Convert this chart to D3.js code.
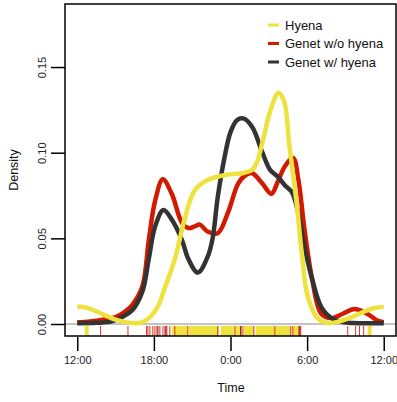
<!DOCTYPE html>
<html>
<head>
<meta charset="utf-8">
<script src="https://cdn.jsdelivr.net/npm/d3@7"></script>
<style>
  html, body { margin: 0; padding: 0; background: #fff; }
  svg { display: block; font-family: "Liberation Sans", Arial, Helvetica, sans-serif; }
</style>
</head>
<body>
<svg id="chart" width="397" height="402"></svg>
<script>
// ---- Data (hours since 12:00) ----
const seriesNames = ["Hyena", "Genet w/o hyena", "Genet w/ hyena"];
const xTickHours = [0, 6, 12, 18, 24];
const xTickLabels = ["12:00", "18:00", "0:00", "6:00", "12:00"];
const yTickValues = [0, 0.05, 0.10, 0.15];
const yTickLabels = ["0.00", "0.05", "0.10", "0.15"];

const hyenaHours =   [0, 0.6, 1.6, 3, 4, 5, 5.7, 6.3, 6.9, 7.65, 8.4, 9.2, 10.2, 11.6, 12.9, 13.7, 14.05, 14.5, 15.1, 15.75, 16.2, 16.6, 17.2, 17.6, 18.05, 18.8, 19.6, 20.5, 21.5, 22.7, 23.4, 24];
const hyenaDensity = [0.010, 0.0098, 0.007, 0.0025, 0.0008, 0.0008, 0.004, 0.010, 0.022, 0.038, 0.061, 0.078, 0.084, 0.087, 0.088, 0.090, 0.094, 0.106, 0.124, 0.135, 0.130, 0.105, 0.069, 0.040, 0.016, 0.0035, 0.0006, 0.0015, 0.004, 0.008, 0.0095, 0.010];

const genetNoHours =   [0, 1, 2, 3, 3.7, 4.3, 5.1, 5.6, 6.1, 6.7, 7.4, 8.2, 8.7, 9.2, 9.6, 10.2, 11.0, 11.8, 12.6, 13.2, 13.7, 14.5, 15.2, 15.7, 16.25, 16.9, 17.3, 17.8, 18.4, 19.1, 19.9, 20.8, 21.7, 22.7, 23.5, 24];
const genetNoDensity = [0.001, 0.0015, 0.0025, 0.004, 0.007, 0.011, 0.022, 0.049, 0.072, 0.0845, 0.076, 0.059, 0.056, 0.057, 0.058, 0.054, 0.053, 0.065, 0.082, 0.087, 0.088, 0.082, 0.076, 0.083, 0.092, 0.097, 0.085, 0.055, 0.026, 0.006, 0.0035, 0.006, 0.0087, 0.006, 0.002, 0.001];

const genetWithHours =   [0, 1.5, 2.7, 3.5, 4.3, 5.1, 5.6, 6.1, 6.75, 7.4, 8.2, 8.7, 9.45, 10.2, 10.6, 11.0, 11.5, 12.0, 12.5, 13.0, 13.7, 14.5, 15.1, 15.7, 16.25, 16.8, 17.3, 17.8, 18.4, 19.1, 19.9, 20.9, 22, 24];
const genetWithDensity = [0.0005, 0.0007, 0.0015, 0.004, 0.008, 0.019, 0.038, 0.057, 0.0665, 0.061, 0.049, 0.038, 0.030, 0.039, 0.050, 0.074, 0.096, 0.112, 0.119, 0.120, 0.115, 0.100, 0.090, 0.086, 0.081, 0.077, 0.065, 0.045, 0.026, 0.010, 0.0035, 0.001, 0.0005, 0.0005];

// Rug observations (hours since 12:00)
const hyenaRug = [0.74, 7.57, 7.80, 8.04, 8.27, 8.51, 8.90, 9.13, 9.37, 9.60, 9.84, 10.07, 10.31, 10.54, 10.78, 10.93, 11.40, 11.64, 11.87, 12.10, 12.50, 12.73, 13.20, 13.43, 13.67, 14.14, 14.37, 14.60, 14.84, 15.07, 15.30, 15.62, 15.86, 16.10, 16.33, 16.57, 17.04, 17.27, 22.90];
const genetNoRug = [1.83, 3.97, 5.43, 5.53, 5.69, 5.92, 6.08, 6.24, 6.47, 6.71, 6.86, 7.02, 7.25, 7.64, 8.66, 11.0, 12.34, 12.8, 12.97, 13.83, 15.47, 16.72, 16.88, 17.35, 17.5, 21.18, 21.8, 22.1, 22.43];
const genetWithRug = [6.32, 6.94, 12.8, 17.43];

// ---- Layout ----
const svg = d3.select("#chart");
const box = { left: 65, right: 396, top: 4, bottom: 336 };
const colors = { hyena: "#eee23e", genetNo: "#d21a00", genetWith: "#333333" };

const x = d3.scaleLinear().domain([-0.96, 24.96]).range([box.left, box.right]);
const y = d3.scaleLinear().domain([-0.007, 0.1868]).range([box.bottom, box.top]);

// baseline at density 0
svg.append("line")
  .attr("x1", box.left).attr("x2", box.right)
  .attr("y1", y(0)).attr("y2", y(0))
  .attr("stroke", "#8a8a8a").attr("stroke-width", 1);

// rugs
function rug(data, color, width) {
  svg.append("g").selectAll("line").data(data).join("line")
    .attr("x1", d => x(d)).attr("x2", d => x(d))
    .attr("y1", box.bottom).attr("y2", box.bottom - 10)
    .attr("stroke", color).attr("stroke-width", width);
}
rug(hyenaRug, colors.hyena, 4);
rug(genetNoRug, "#dd3322", 1);
rug(genetWithRug, "#7a1a10", 1);

// curves
const line = d3.line().x(d => x(d[0])).y(d => y(d[1])).curve(d3.curveCatmullRom.alpha(0.5));
function drawCurve(hours, dens, color) {
  svg.append("path")
    .datum(d3.zip(hours, dens))
    .attr("d", line)
    .attr("fill", "none")
    .attr("stroke", color)
    .attr("stroke-width", 4.5)
    .attr("stroke-linejoin", "round")
    .attr("stroke-linecap", "butt");
}
drawCurve(genetNoHours, genetNoDensity, colors.genetNo);
drawCurve(genetWithHours, genetWithDensity, colors.genetWith);
drawCurve(hyenaHours, hyenaDensity, colors.hyena);

// box
svg.append("rect")
  .attr("x", box.left).attr("y", box.top)
  .attr("width", box.right - box.left).attr("height", box.bottom - box.top)
  .attr("fill", "none").attr("stroke", "#000").attr("stroke-width", 1.5);

// x axis ticks
const xAxis = d3.axisBottom(x).tickValues(xTickHours)
  .tickFormat((d, i) => xTickLabels[i]).tickSize(14).tickPadding(5);
const gx = svg.append("g").attr("transform", `translate(0,${box.bottom + 1})`).call(xAxis);
gx.select(".domain").remove();
gx.selectAll(".tick line").attr("stroke", "#000").attr("stroke-width", 1.5);
gx.selectAll(".tick text").attr("font-size", 11).attr("fill", "#222")
  .attr("font-family", "Liberation Sans, Arial, sans-serif");

// y axis ticks
const yAxis = d3.axisLeft(y).tickValues(yTickValues)
  .tickFormat((d, i) => yTickLabels[i]).tickSize(14).tickPadding(0);
const gy = svg.append("g").attr("transform", `translate(${box.left},0)`).call(yAxis);
gy.select(".domain").remove();
gy.selectAll(".tick line").attr("stroke", "#000").attr("stroke-width", 1.5);
gy.selectAll(".tick text").remove();
gy.selectAll(".tick").append("text")
  .attr("transform", "translate(-19,0) rotate(-90)")
  .attr("text-anchor", "middle")
  .attr("font-size", 11).attr("fill", "#222")
  .attr("font-family", "Liberation Sans, Arial, sans-serif")
  .text((d, i) => yTickLabels[i]);

// axis titles
svg.append("text").attr("x", (box.left + box.right) / 2 + 0.5).attr("y", 392)
  .attr("text-anchor", "middle").attr("font-size", 12.5).attr("fill", "#111").text("Time");
svg.append("text").attr("transform", `translate(18,${(box.top + box.bottom) / 2}) rotate(-90)`)
  .attr("text-anchor", "middle").attr("font-size", 12.5).attr("fill", "#111").text("Density");

// legend
const legendColors = [colors.hyena, colors.genetNo, colors.genetWith];
const lg = svg.append("g");
seriesNames.forEach((name, i) => {
  const ly = 25 + i * 18.5;
  lg.append("line").attr("x1", 268).attr("x2", 279).attr("y1", ly).attr("y2", ly)
    .attr("stroke", legendColors[i]).attr("stroke-width", 3);
  lg.append("text").attr("x", 285).attr("y", ly + 4.5)
    .attr("font-size", 13).attr("fill", "#111").text(name);
});
</script>
</body>
</html>
